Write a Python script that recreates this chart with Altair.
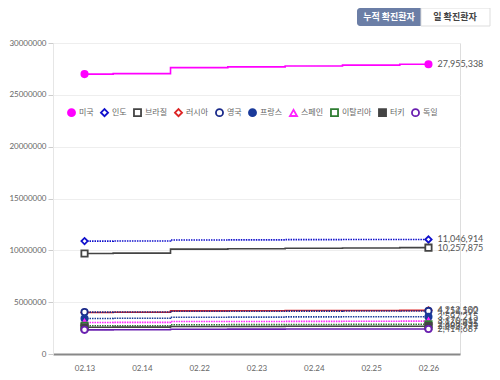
import altair as alt
import pandas as pd

dates = ["02.13", "02.14", "02.22", "02.23", "02.24", "02.25", "02.26"]
countries = ["미국", "인도", "브라질", "러시아", "영국", "프랑스", "스페인", "이탈리아", "터키", "독일"]

us = [27000000, 27050000, 27620000, 27700000, 27780000, 27870000, 27955338]
india = [10890000, 10900000, 10990000, 11010000, 11030000, 11040000, 11046914]
brazil = [9700000, 9730000, 10120000, 10160000, 10200000, 10230000, 10257875]
russia = [4010000, 4030000, 4160000, 4170000, 4190000, 4200000, 4212100]
uk = [4040000, 4050000, 4120000, 4130000, 4140000, 4150000, 4154562]
france = [3430000, 3450000, 3550000, 3560000, 3580000, 3590000, 3597215]
spain = [3040000, 3050000, 3130000, 3140000, 3150000, 3160000, 3170612]
italy = [2720000, 2730000, 2820000, 2830000, 2850000, 2860000, 2868435]
turkey = [2580000, 2590000, 2650000, 2660000, 2670000, 2680000, 2683971]
germany = [2330000, 2340000, 2390000, 2400000, 2410000, 2410000, 2414687]

series = [us, india, brazil, russia, uk, france, spain, italy, turkey, germany]
line_styles = ["solid", "dotted", "solid", "solid", "dotted", "dotted",
               "dotted", "dotted", "solid", "solid"]

stroke_colors = ["#ff00ff", "#1010cc", "#444444", "#dd2424", "#1a2a8a", "#1a3a9a",
                 "#ff22ff", "#2e7d32", "#444444", "#6a1fb0"]
fill_colors = ["#ff00ff", "#ffffff", "#ffffff", "#ffffff", "#ffffff", "#1a3a9a",
               "#ffffff", "#ffffff", "#444444", "#ffffff"]
shapes = ["circle", "diamond", "square", "diamond", "circle", "circle",
          "triangle-up", "square", "square", "circle"]

rows = []
for c, vals, st in zip(countries, series, line_styles):
    for d, v in zip(dates, vals):
        rows.append({"country": c, "date": d, "value": v, "style": st})
df = pd.DataFrame(rows)

FONT = "Lato, Noto Sans CJK KR"

x_enc = alt.X("date:O", sort=dates, title=None,
              scale=alt.Scale(type="point", padding=0.55),
              axis=alt.Axis(labelAngle=0, ticks=False, domainColor="#888888",
                            domainWidth=2, labelColor="#666666", labelFontSize=8,
                            labelPadding=10, grid=False))
y_enc = alt.Y("value:Q", title=None,
              scale=alt.Scale(domain=[0, 30000000], nice=False),
              axis=alt.Axis(values=[0, 5000000, 10000000, 15000000, 20000000, 25000000, 30000000],
                            format="d", labelColor="#666666", labelFontSize=8,
                            gridColor="#eeeeee", domainColor="#e6e6e6", tickColor="#cccccc",
                            tickSize=5, labelPadding=2))

base = alt.Chart(df)

lines = base.mark_line(interpolate="step", strokeWidth=1.6).encode(
    x=x_enc, y=y_enc,
    stroke=alt.Stroke("country:N", scale=alt.Scale(domain=countries, range=stroke_colors), title=None),
    strokeDash=alt.StrokeDash("style:N", scale=alt.Scale(domain=["solid", "dotted"],
                                                          range=[[1, 0], [1.5, 1]]), legend=None),
    detail="country:N",
    order=alt.Order("date:O"),
)

points = base.transform_filter(
    alt.FieldOneOfPredicate(field="date", oneOf=[dates[0], dates[-1]])
).mark_point(filled=True, size=40, strokeWidth=1.8, opacity=1).encode(
    x=x_enc, y=y_enc,
    shape=alt.Shape("country:N", scale=alt.Scale(domain=countries, range=shapes), title=None),
    fill=alt.Fill("country:N", scale=alt.Scale(domain=countries, range=fill_colors), title=None),
    stroke=alt.Stroke("country:N", scale=alt.Scale(domain=countries, range=stroke_colors), title=None),
)

labels = base.transform_filter(
    alt.datum.date == dates[-1]
).mark_text(align="left", dx=9, fontSize=9, color="#555555", font=FONT).encode(
    x=x_enc, y=y_enc, text=alt.Text("value:Q", format=",d")
)

btn_df = pd.DataFrame({"k": [0]})
btn = alt.Chart(btn_df)
b1 = btn.mark_rect(color="#6b7ea6", cornerRadiusTopLeft=3, cornerRadiusBottomLeft=3).encode(
    x=alt.value(304), x2=alt.value(368), y=alt.value(-35), y2=alt.value(-17))
b2 = btn.mark_rect(fill="#ffffff", stroke="#dddddd", strokeWidth=1).encode(
    x=alt.value(368), x2=alt.value(437), y=alt.value(-35), y2=alt.value(-17))
t1 = btn.mark_text(text="누적 확진환자", color="#ffffff", fontSize=9, fontWeight="bold",
                   font="Noto Sans CJK KR").encode(x=alt.value(336), y=alt.value(-26))
t2 = btn.mark_text(text="일 확진환자", color="#444444", fontSize=9, fontWeight="bold",
                   font="Noto Sans CJK KR").encode(x=alt.value(402), y=alt.value(-26))

chart = alt.layer(lines, points, labels, b1, b2, t1, t2).properties(
    width=407, height=311,
    autosize=alt.AutoSizeParams(type="none"),
    padding={"left": 45, "top": 35, "right": 32, "bottom": 17},
).configure_view(stroke=None).configure(font=FONT).configure_legend(
    orient="none", legendX=14, legendY=65, direction="horizontal", columns=10,
    labelFontSize=8, labelColor="#666666", labelFont=FONT, symbolSize=50,
    symbolStrokeWidth=1.8, columnPadding=3, labelOffset=3, padding=0
)

chart.save("out.html", embed_options={"renderer": "svg", "actions": False})
